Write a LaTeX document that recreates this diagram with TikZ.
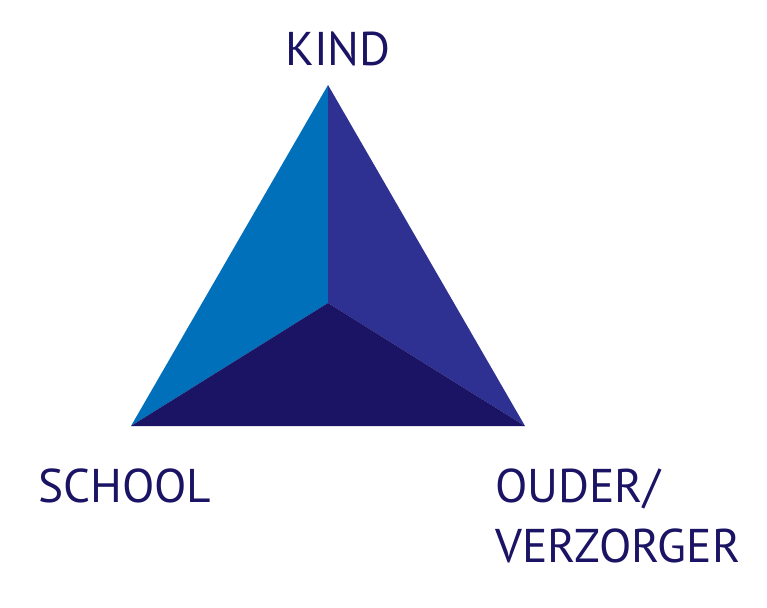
\documentclass[tikz,border=0pt]{standalone}
\usepackage{fontspec}
\setmainfont{PT Sans}
\definecolor{lightface}{HTML}{0070BA}
\definecolor{rightface}{HTML}{2E3192}
\definecolor{darkface}{HTML}{1B1464}
\tikzset{label text/.style={text=darkface, inner sep=0pt, font=\fontsize{35.5}{45}\selectfont}}
\begin{document}
\begin{tikzpicture}[x=0.75pt, y=-0.75pt]
    \useasboundingbox (0,0) rectangle (767,607);
    \coordinate (top) at (328,85);
    \coordinate (left) at (131,426);
    \coordinate (right) at (525,426);
    \coordinate (mid) at (328,303);
    \fill [lightface] (top) -- (mid) -- (left) -- cycle;
    \fill [rightface] (top) -- (right) -- (mid) -- cycle;
    \fill [darkface] (left) -- (mid) -- (right) -- cycle;
    \node [label text, anchor=base] (kind) at (338,65) {KIND};
    \node [label text, anchor=base west] (school) at (38,502) {SCHOOL};
    \node [label text, anchor=base west] (ouder) at (495,502) {OUDER/};
    \node [label text, anchor=base west] (verzorger) at (495,562) {VERZORGER};
  \end{tikzpicture}
\end{document}
